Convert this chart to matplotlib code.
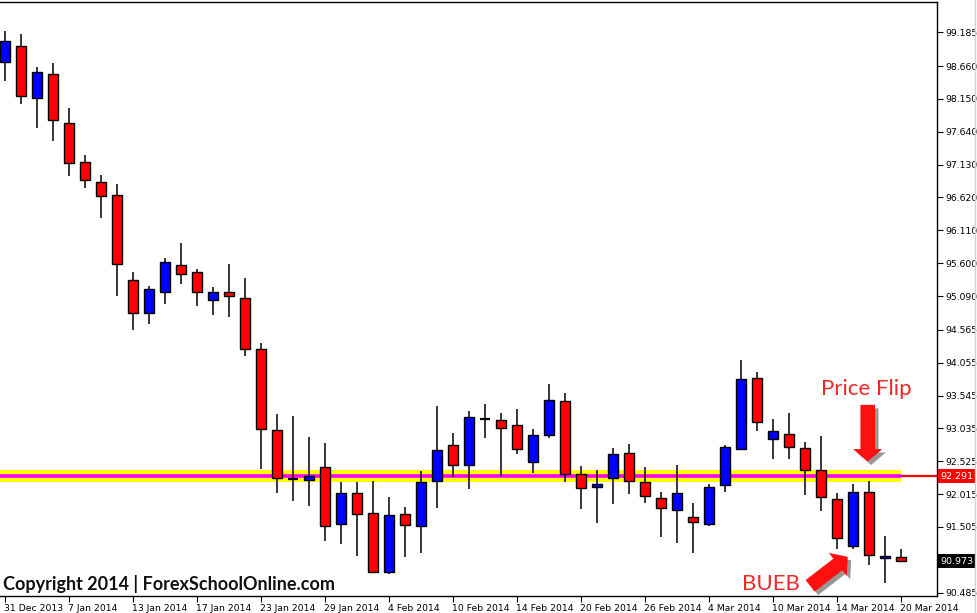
import matplotlib
matplotlib.use("Agg")
import matplotlib.pyplot as plt
import matplotlib.transforms as mtransforms
from matplotlib import patheffects as pe

# ---------------- data (daily candles) ----------------
opens = [98.719, 98.968, 98.169, 98.537, 97.772, 97.166, 96.856, 96.654, 95.334, 94.822,
         95.148, 95.567, 95.458, 95.024, 95.148, 95.055, 94.263, 93.005, 92.253, 92.228,
         92.430, 91.545, 92.027, 91.716, 90.800, 91.701, 91.514, 92.213, 92.777, 92.461,
         93.180, 93.160, 93.083, 92.508, 92.927, 93.455, 92.322, 92.120, 92.260, 92.648,
         92.197, 91.949, 91.763, 91.654, 91.545, 92.151, 92.710, 93.812, 92.865, 92.943,
         92.725, 92.384, 91.933, 91.204, 92.042, 91.017, 91.033]
highs = [99.205, 99.159, 98.646, 98.708, 98.010, 97.280, 96.969, 96.829, 95.463, 95.250,
         95.685, 95.913, 95.510, 95.230, 95.587, 95.370, 94.360, 93.258, 93.227, 92.905,
         92.808, 92.202, 92.202, 92.218, 91.969, 91.809, 92.373, 93.382, 92.963, 93.305,
         93.413, 93.274, 93.336, 93.025, 93.724, 93.579, 92.446, 92.384, 92.725, 92.787,
         92.430, 92.047, 92.466, 91.876, 92.166, 92.772, 94.096, 93.910, 93.180, 93.278,
         92.819, 92.916, 92.027, 92.171, 92.213, 91.359, 91.157]
lows = [98.433, 98.076, 97.704, 97.502, 96.958, 96.772, 96.306, 95.095, 94.567, 94.660,
        94.961, 95.281, 94.940, 94.800, 94.769, 94.159, 92.399, 92.027, 91.912, 91.834,
        91.281, 91.244, 91.058, 90.795, 90.778, 91.042, 91.104, 91.798, 92.275, 92.098,
        92.890, 92.291, 92.632, 92.337, 92.881, 92.197, 91.787, 91.570, 91.865, 92.011,
        91.876, 91.353, 91.250, 91.095, 91.514, 92.051, 92.694, 92.999, 92.564, 92.564,
        92.005, 91.756, 91.166, 91.166, 90.918, 90.638, 90.955]
closes = [99.045, 98.191, 98.569, 97.819, 97.151, 96.887, 96.638, 95.583, 94.822, 95.194,
          95.614, 95.427, 95.148, 95.148, 95.086, 94.263, 93.020, 92.260, 92.253, 92.295,
          91.514, 92.027, 91.701, 90.800, 91.685, 91.530, 92.197, 92.694, 92.461, 93.211,
          93.180, 93.036, 92.710, 92.927, 93.471, 92.322, 92.104, 92.166, 92.632, 92.213,
          91.980, 91.794, 92.027, 91.576, 92.120, 92.741, 93.797, 93.134, 92.994, 92.750,
          92.384, 91.965, 91.337, 92.042, 91.064, 91.048, 90.973]

date_labels = ["31 Dec 2013", "7 Jan 2014", "13 Jan 2014", "17 Jan 2014", "23 Jan 2014",
               "29 Jan 2014", "4 Feb 2014", "10 Feb 2014", "14 Feb 2014", "20 Feb 2014",
               "26 Feb 2014", "4 Mar 2014", "10 Mar 2014", "14 Mar 2014", "20 Mar 2014"]
label_step = 4
price_ticks = [99.185, 98.660, 98.150, 97.640, 97.130, 96.620, 96.110, 95.600, 95.090,
               94.565, 94.055, 93.545, 93.035, 92.525, 92.015, 91.505, 90.485]

zone_low, zone_high = 92.202, 92.388
level_price = 92.291
last_price = 90.973

# ---------------- figure ----------------
W, H = 978, 613
fig = plt.figure(figsize=(W / 100, H / 100), dpi=100)
fig.patch.set_facecolor("white")
ax = fig.add_axes([0, (H - 596) / H, 937 / W, 594 / H])

n = len(opens)
xs = list(range(n))
ax.set_xlim(-0.33, 58.23)
ax.set_ylim(90.432, 99.655)

# support zone (yellow rectangle) with horizontal level line
ax.fill_between([-0.33, n - 1], zone_low, zone_high, color="#FFFF00", lw=0, zorder=1)
ax.hlines(level_price, -0.33, n - 1, color="#FF00FF", lw=2.6, zorder=1.5)
ax.hlines(level_price, n - 1, 58.23, color="#FF0000", lw=1.6, zorder=1.5)

# candles
bw = 0.64
for i in xs:
    o, h, l, c = opens[i], highs[i], lows[i], closes[i]
    ax.vlines(i, l, h, color="black", lw=1.1, zorder=2)
    if abs(c - o) < 1e-6:
        ax.hlines(o, i - bw / 2, i + bw / 2, color="black", lw=1.6, zorder=3)
        continue
    col = "#0000FF" if c > o else "#FF0000"
    ax.bar(i, abs(c - o), bottom=min(o, c), width=bw, color=col,
           edgecolor="black", linewidth=1.0, zorder=3)

# spines
ax.spines["left"].set_visible(False)
for s in ("top", "right", "bottom"):
    ax.spines[s].set_color("black")
    ax.spines[s].set_linewidth(1.0)

# x ticks
xt = [i * label_step for i in range(len(date_labels))]
ax.set_xticks(xt)
ax.set_xticklabels(date_labels, ha="left", fontsize=6.7, family="DejaVu Sans")
ax.tick_params(axis="x", direction="out", length=4, width=0.8, pad=1.5, colors="black")
for lbl in ax.get_xticklabels():
    lbl.set_transform(lbl.get_transform() + mtransforms.ScaledTranslation(-1.5 / 100, 0, fig.dpi_scale_trans))

# y ticks on the right
ax.yaxis.tick_right()
ax.set_yticks(price_ticks)
ax.set_yticklabels([f"{p:.3f}" for p in price_ticks], fontsize=6.7, family="DejaVu Sans")
ax.tick_params(axis="y", direction="out", length=4, width=0.8, pad=2, colors="black")

# price boxes on the axis
trans = mtransforms.blended_transform_factory(ax.transAxes, ax.transData)
ax.text(1.0035, level_price, f"{level_price:.3f}", transform=trans, color="white",
        fontsize=6.8, va="center", ha="left", zorder=10, clip_on=False,
        bbox=dict(boxstyle="square,pad=0.25", fc="#FF0000", ec="none"))
ax.text(1.0035, last_price, f"{last_price:.3f}", transform=trans, color="white",
        fontsize=6.8, va="center", ha="left", zorder=10, clip_on=False,
        bbox=dict(boxstyle="square,pad=0.25", fc="black", ec="none"))

# faint right border of window
fig.add_artist(plt.Line2D([975 / W, 975 / W], [0, 1], color="#D0D0D0", lw=1))

# annotations
red = "#F02828"
ax.text(53.8, 93.64, "Price Flip", color=red, fontsize=16, family="Lato",
        ha="center", va="center", zorder=12)
ax.text(47.85, 90.62, "BUEB", color=red, fontsize=16, family="Lato",
        ha="center", va="center", zorder=12)

shadow = [pe.SimplePatchShadow(offset=(2.5, -2.5), shadow_rgbFace="#333333", alpha=0.5), pe.Normal()]
astyle = "simple,head_length=0.6,head_width=1.4,tail_width=0.7"
ax.annotate("", xy=(53.9, 92.52), xytext=(53.9, 93.40),
            arrowprops=dict(arrowstyle=astyle, fc="#FF1010", ec="none", shrinkA=0, shrinkB=0,
                            mutation_scale=15, path_effects=shadow), zorder=12)
ax.annotate("", xy=(52.65, 91.04), xytext=(50.3, 90.59),
            arrowprops=dict(arrowstyle=astyle, fc="#FF1010", ec="none", shrinkA=0, shrinkB=0,
                            mutation_scale=15, path_effects=shadow), zorder=12)

# copyright
fig.text(3 / W, 1 - 584 / H, "Copyright 2014 | ForexSchoolOnline.com", fontsize=13,
         family="Lato", fontweight="bold", color="#111111", ha="left", va="center")

fig.savefig("out.png", dpi=100, facecolor="white")
